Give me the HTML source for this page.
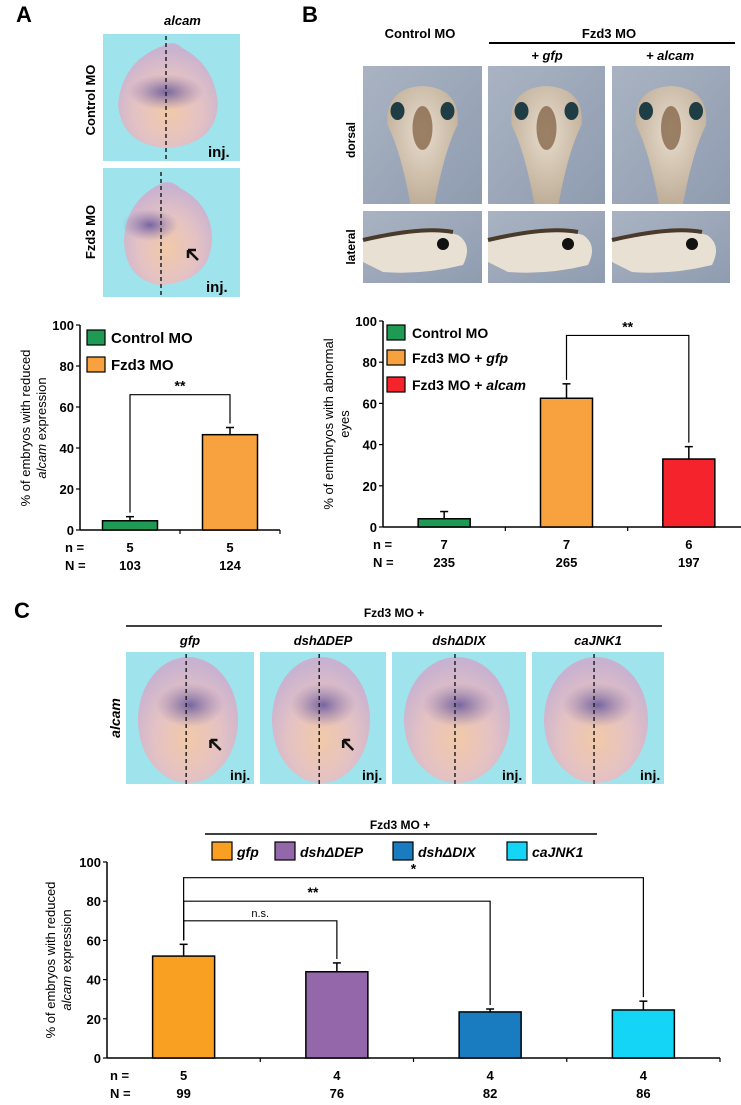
<!DOCTYPE html>
<html><head><meta charset="utf-8">
<style>
html,body{margin:0;padding:0;background:#fff;}
svg{display:block;font-family:"Liberation Sans",Arial,sans-serif;}
</style></head>
<body>
<svg id="fig" width="741" height="1105" viewBox="0 0 741 1105" xmlns="http://www.w3.org/2000/svg">
<defs>
<radialGradient id="emb" cx="50%" cy="65%" r="60%">
<stop offset="0%" stop-color="#f2c9a8"/><stop offset="55%" stop-color="#e4c2c4"/><stop offset="100%" stop-color="#c9b2d0"/>
</radialGradient>
<radialGradient id="blot" cx="50%" cy="50%" r="50%">
<stop offset="0%" stop-color="#5a4d9a" stop-opacity="0.8"/><stop offset="100%" stop-color="#7a6aa8" stop-opacity="0"/>
</radialGradient>
<linearGradient id="bg" x1="0" y1="0" x2="1" y2="1"><stop offset="0%" stop-color="#a9b3c2"/><stop offset="100%" stop-color="#8f9cb0"/></linearGradient>
<radialGradient id="tad" cx="50%" cy="40%" r="60%"><stop offset="0%" stop-color="#e8dccd"/><stop offset="100%" stop-color="#bfae98"/></radialGradient>
</defs>

<!-- Panel A photos -->
<text x="16" y="22" font-size="22" font-weight="bold">A</text>
<text x="164" y="25" font-size="13" font-weight="bold" font-style="italic">alcam</text>
<g>
<rect x="103" y="34" width="137" height="127" fill="#9fe3ec"/>
<path d="M165 45 Q175 40 182 48 Q215 65 218 105 Q215 145 166 148 Q122 145 118 105 Q122 60 165 45Z" fill="url(#emb)"/>
<ellipse cx="166" cy="92" rx="38" ry="18" fill="url(#blot)"/>
<line x1="166" y1="36" x2="166" y2="160" stroke="#222" stroke-width="1.5" stroke-dasharray="4,3"/>
<text x="208" y="157" font-size="15" font-weight="bold">inj.</text>
</g>
<text transform="translate(95,100) rotate(-90)" text-anchor="middle" font-size="13" font-weight="bold">Control MO</text>
<g>
<rect x="103" y="168" width="137" height="129" fill="#9fe3ec"/>
<path d="M162 183 Q172 180 180 188 Q212 205 212 240 Q210 282 160 285 Q125 280 124 240 Q126 200 162 183Z" fill="url(#emb)"/>
<ellipse cx="150" cy="225" rx="28" ry="16" fill="url(#blot)"/>
<line x1="161" y1="172" x2="161" y2="296" stroke="#222" stroke-width="1.5" stroke-dasharray="4,3"/>
<path d="M198 260 L188 250 M188 250 l0 8 M188 250 l8 0" stroke="#111" stroke-width="2.5" fill="none"/>
<text x="206" y="292" font-size="15" font-weight="bold">inj.</text>
</g>
<text transform="translate(95,232) rotate(-90)" text-anchor="middle" font-size="13" font-weight="bold">Fzd3 MO</text>

<!-- Panel B photos -->
<text x="302" y="22" font-size="22" font-weight="bold">B</text>
<text x="420" y="38" text-anchor="middle" font-size="13" font-weight="bold">Control MO</text>
<text x="609" y="38" text-anchor="middle" font-size="13" font-weight="bold">Fzd3 MO</text>
<line x1="489" y1="43" x2="735" y2="43" stroke="#000" stroke-width="2"/>
<text x="547" y="60" text-anchor="middle" font-size="13" font-weight="bold" font-style="italic">+ gfp</text>
<text x="670" y="60" text-anchor="middle" font-size="13" font-weight="bold" font-style="italic">+ alcam</text>
<text transform="translate(355,140) rotate(-90)" text-anchor="middle" font-size="12" font-weight="bold">dorsal</text>
<text transform="translate(355,247) rotate(-90)" text-anchor="middle" font-size="12" font-weight="bold">lateral</text>
<g id="tadpoles"></g>

<!-- Panel C photos -->
<text x="14" y="618" font-size="22" font-weight="bold">C</text>
<text x="394" y="617" text-anchor="middle" font-size="12" font-weight="bold">Fzd3 MO +</text>
<line x1="126" y1="626" x2="662" y2="626" stroke="#000" stroke-width="1.5"/>
<text transform="translate(120,718) rotate(-90)" text-anchor="middle" font-size="14" font-weight="bold" font-style="italic">alcam</text>
<g id="cphotos"></g>

<g id="chartA"></g>
<g id="chartB"></g>
<g id="chartC"></g>
</svg>
<script>
const NS="http://www.w3.org/2000/svg";
function mk(p,t,a,txt){const e=document.createElementNS(NS,t);for(const k in a)e.setAttribute(k,a[k]);if(txt!==undefined)e.textContent=txt;p.appendChild(e);return e;}

// Tadpole photos (B)
const tg=document.getElementById('tadpoles');
[[363,482],[488,605],[612,730]].forEach((c,i)=>{
 const x=c[0],w=c[1]-c[0];
 const g=mk(tg,'g',{});
 
 
 mk(g,'rect',{x:x,y:66,width:w,height:138,fill:'url(#bg)'});
 const cx=x+w/2;
 mk(g,'path',{d:`M${cx} 86 Q${cx+38} 88 ${cx+35} 125 Q${cx+22} 150 ${cx+12} 204 L${cx-12} 204 Q${cx-22} 150 ${cx-35} 125 Q${cx-38} 88 ${cx} 86Z`,fill:'url(#tad)'});
 mk(g,'ellipse',{cx:cx-25,cy:111,rx:7,ry:9,fill:'#1f3d44'});
 mk(g,'ellipse',{cx:cx+25,cy:111,rx:7,ry:9,fill:'#1f3d44'});
 mk(g,'ellipse',{cx:cx,cy:128,rx:10,ry:22,fill:'#7a5a3a',opacity:0.7});
 mk(g,'rect',{x:x,y:211,width:w,height:72,fill:'url(#bg)'});
 mk(g,'path',{d:`M${x} 240 Q${x+60} 225 ${x+95} 235 Q${x+110} 245 ${x+100} 265 Q${x+60} 275 ${x+20} 272 L${x} 262Z`,fill:'#e9e0d4'});
 mk(g,'path',{d:`M${x} 240 Q${x+60} 226 ${x+90} 232`,stroke:'#4a3a2a',"stroke-width":4,fill:'none'});
 mk(g,'circle',{cx:x+80,cy:244,r:6,fill:'#111'});
});

// C embryo photos
const cg=document.getElementById('cphotos');
const cLabels=['gfp','dshΔDEP','dshΔDIX','caJNK1'];
[[126,254],[260,386],[392,526],[532,664]].forEach((c,i)=>{
 const x=c[0],w=c[1]-c[0],cx=x+w/2;
 const g=mk(cg,'g',{});
 
 
 mk(g,'rect',{x:x,y:652,width:w,height:132,fill:'#9fe3ec'});
 mk(g,'ellipse',{cx:cx-2,cy:720,rx:w/2-14,ry:63,fill:'url(#emb)'});
 mk(g,'ellipse',{cx:cx,cy:705,rx:w/2-30,ry:22,fill:'url(#blot)'});
 mk(g,'line',{x1:x+w*0.47,y1:654,x2:x+w*0.47,y2:784,stroke:'#222',"stroke-width":1.5,"stroke-dasharray":'4,3'});
 mk(g,'text',{x:c[1]-24,y:780,"font-size":14,"font-weight":"bold"},'inj.');
 mk(g,'text',{x:cx,y:645,"text-anchor":"middle","font-size":13,"font-weight":"bold","font-style":"italic"},cLabels[i]);
 if(i<2){mk(g,'path',{d:`M${x+w*0.74} 750 L${x+w*0.66} 740 M${x+w*0.66} 740 l0 8 M${x+w*0.66} 740 l7 0`,stroke:'#111',"stroke-width":2.5,fill:'none'});}
});

// ---- Chart data ----
const aCats=['Control MO','Fzd3 MO'];
const aVals=[4.5,46.5];
const aErr=[2,3.5];
const aN1=['5','5'];
const aN2=['103','124'];
const bCats=['Control MO','Fzd3 MO + gfp','Fzd3 MO + alcam'];
const bVals=[4,62.5,33];
const bErr=[3.5,7,6];
const bN1=['7','7','6'];
const bN2=['235','265','197'];
const cCats=['gfp','dshΔDEP','dshΔDIX','caJNK1'];
const cVals=[52,44,23.5,24.5];
const cErr=[6,4.5,1.5,4.5];
const cN1=['5','4','4','4'];
const cN2=['99','76','82','86'];
const yTicks=[0,20,40,60,80,100];

function chart(gid,o){
 const g=document.getElementById(gid);
 const y=v=>o.y0-(v/100)*(o.y0-o.y100);
 const x=i=>o.x0+(i+0.5)*(o.x1-o.x0)/o.cats.length;
 mk(g,'line',{x1:o.x0,y1:o.y100,x2:o.x0,y2:o.y0,stroke:'#000',"stroke-width":1.5});
 mk(g,'line',{x1:o.x0,y1:o.y0,x2:o.x1,y2:o.y0,stroke:'#000',"stroke-width":1.5});
 yTicks.forEach(t=>{
  mk(g,'line',{x1:o.x0-4,y1:y(t),x2:o.x0,y2:y(t),stroke:'#000',"stroke-width":1.2});
  const tl=mk(g,'text',{x:o.x0-6,y:y(t)+5,"text-anchor":"end","font-size":13,"font-weight":"bold"},String(t));
  
  
 });
 for(let i=1;i<=o.cats.length;i++){const xx=o.x0+i*(o.x1-o.x0)/o.cats.length;mk(g,'line',{x1:xx,y1:o.y0,x2:xx,y2:o.y0+4,stroke:'#000',"stroke-width":1.2});}
 o.cats.forEach((c,i)=>{
  const top=y(o.vals[i]+o.err[i]);
  mk(g,'line',{x1:x(i),y1:y(o.vals[i]),x2:x(i),y2:top,stroke:'#000',"stroke-width":1.5});
  mk(g,'line',{x1:x(i)-4,y1:top,x2:x(i)+4,y2:top,stroke:'#000',"stroke-width":1.5});
  const b=mk(g,'rect',{x:x(i)-o.bw/2,y:y(o.vals[i]),width:o.bw,height:o.y0-y(o.vals[i]),fill:o.colors[i],stroke:'#000',"stroke-width":1.5});
  
  
  mk(g,'text',{x:x(i),y:o.y0+22,"text-anchor":"middle","font-size":13,"font-weight":"bold"},o.n1[i]);
  mk(g,'text',{x:x(i),y:o.y0+40,"text-anchor":"middle","font-size":13,"font-weight":"bold"},o.n2[i]);
 });
 mk(g,'text',{x:o.nx,y:o.y0+22,"font-size":13,"font-weight":"bold"},'n =');
 mk(g,'text',{x:o.nx,y:o.y0+40,"font-size":13,"font-weight":"bold"},'N =');
 o.brackets.forEach(br=>{
  const by=y(br.lvl),xa=x(br.a),xb=x(br.b);
  mk(g,'path',{d:`M${xa} ${y(o.vals[br.a]+o.err[br.a])-4} L${xa} ${by} L${xb} ${by} L${xb} ${y(o.vals[br.b]+o.err[br.b])-4}`,stroke:'#000',"stroke-width":1.2,fill:'none'});
  const st=mk(g,'text',{x:br.tx!==undefined?br.tx:(xa+xb)/2,y:by-4,"text-anchor":"middle","font-size":br.label==='n.s.'?11:14,"font-weight":br.label==='n.s.'?'normal':'bold'},br.label);
  
  
 });
 return {x,y,g};
}

// Chart A
const A=chart('chartA',{x0:80,x1:280,y0:530,y100:325,cats:aCats,vals:aVals,err:aErr,n1:aN1,n2:aN2,bw:55,colors:['#1f9a55','#f7a23e'],nx:65,
 brackets:[{a:0,b:1,lvl:66,label:'**'}]});
[['Control MO','#1f9a55',330],['Fzd3 MO','#f7a23e',357]].forEach((l,i)=>{
 const r=mk(A.g,'rect',{x:87,y:l[2],width:18,height:15,fill:l[1],stroke:'#000',"stroke-width":1.2});
 
 mk(A.g,'text',{x:111,y:l[2]+13,"font-size":15,"font-weight":"bold"},l[0]);
});
const ta=mk(A.g,'text',{transform:'translate(30,428) rotate(-90)',"text-anchor":"middle","font-size":13});

mk(ta,'tspan',{x:0,dy:0},'% of embryos with reduced');
const t2=mk(ta,'tspan',{x:0,dy:16});mk(t2,'tspan',{"font-style":"italic"},'alcam');mk(t2,'tspan',{},' expression');

// Chart B
const B=chart('chartB',{x0:383,x1:750,y0:527,y100:321,cats:bCats,vals:bVals,err:bErr,n1:bN1,n2:bN2,bw:52,colors:['#1f9a55','#f7a23e','#f5232c'],nx:373,
 brackets:[{a:1,b:2,lvl:93,label:'**'}]});
[['Control MO','#1f9a55',325,''],['Fzd3 MO + ','#f7a23e',350,'gfp'],['Fzd3 MO + ','#f5232c',377,'alcam']].forEach((l,i)=>{
 const r=mk(B.g,'rect',{x:387,y:l[2],width:18,height:15,fill:l[1],stroke:'#000',"stroke-width":1.2});
 
 const t=mk(B.g,'text',{x:412,y:l[2]+13,"font-size":14,"font-weight":"bold"});
 mk(t,'tspan',{},l[0]);if(l[3])mk(t,'tspan',{"font-style":"italic"},l[3]);
});
const tb=mk(B.g,'text',{transform:'translate(333,424) rotate(-90)',"text-anchor":"middle","font-size":13});

mk(tb,'tspan',{x:0,dy:0},'% of emnbryos with abnormal');
mk(tb,'tspan',{x:0,dy:16},'eyes');

// Chart C
const C=chart('chartC',{x0:107,x1:720,y0:1058,y100:862,cats:cCats,vals:cVals,err:cErr,n1:cN1,n2:cN2,bw:62,colors:['#f9a023','#9466aa','#1a7cc0','#14d5f5'],nx:110,
 brackets:[{a:0,b:3,lvl:92,label:'*'},{a:0,b:2,lvl:80,label:'**',tx:313},{a:0,b:1,lvl:70,label:'n.s.'}]});
mk(C.g,'text',{x:400,y:829,"text-anchor":"middle","font-size":12,"font-weight":"bold"},'Fzd3 MO +');
mk(C.g,'line',{x1:205,y1:834,x2:597,y2:834,stroke:'#000',"stroke-width":1.5});
[[212,'gfp'],[275,'dshΔDEP'],[393,'dshΔDIX'],[507,'caJNK1']].forEach((l,i)=>{
 const r=mk(C.g,'rect',{x:l[0],y:842,width:20,height:18,fill:['#f9a023','#9466aa','#1a7cc0','#14d5f5'][i],stroke:'#000',"stroke-width":1.2});
 
 mk(C.g,'text',{x:l[0]+25,y:857,"font-size":14,"font-weight":"bold","font-style":"italic"},l[1]);
});
const tc=mk(C.g,'text',{transform:'translate(55,960) rotate(-90)',"text-anchor":"middle","font-size":13});

mk(tc,'tspan',{x:0,dy:0},'% of embryos with reduced');
const t3=mk(tc,'tspan',{x:0,dy:16});mk(t3,'tspan',{"font-style":"italic"},'alcam');mk(t3,'tspan',{},' expression');
</script>
</body></html>
